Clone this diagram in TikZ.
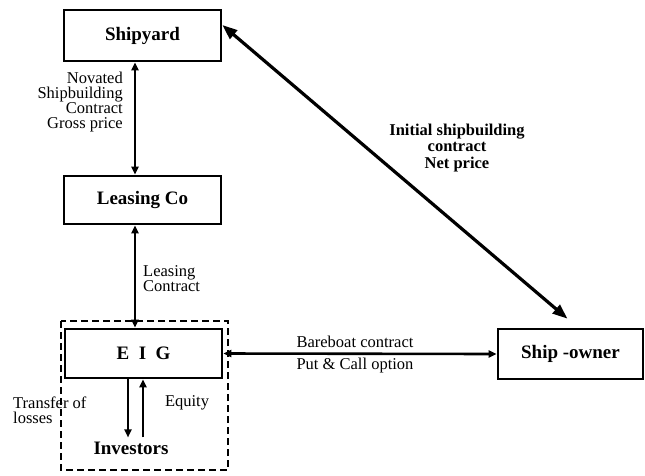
\documentclass[tikz,border=0pt]{standalone}
\usepackage{fontspec}
\setmainfont{Liberation Serif}
\usetikzlibrary{arrows.meta,calc}
\begin{document}
\begin{tikzpicture}[x=1pt,y=-1pt,
  boxnode/.style={draw,line width=2.6pt,inner sep=0pt,font=\bfseries\fontsize{19}{21}\selectfont},
  lbl/.style={font=\fontsize{16.5}{15}\selectfont,inner sep=0pt},
  blbl/.style={font=\bfseries\fontsize{16.5}{16.5}\selectfont,inner sep=0pt,align=center},
  link/.style={line width=2.6pt,{Triangle[length=8pt,width=7pt]}-{Triangle[length=8pt,width=7pt]}}]
\useasboundingbox (0,0) rectangle (645,475);
% boxes
\node[boxnode,minimum width=157pt,minimum height=51pt] (shipyard) at (142.5,35.5) {Shipyard};
\node[boxnode,minimum width=157pt,minimum height=48pt] (leasing) at (142.5,200) {Leasing Co};
\node[boxnode,minimum width=157pt,minimum height=49pt] (eig) at (143.5,353.5) {E\ \ I\ \ G};
\node[boxnode,minimum width=145pt,minimum height=50pt] (owner) at (570.5,354) {Ship -owner};
\node[font=\bfseries\fontsize{19}{21}\selectfont,inner sep=0pt] (inv) at (131,448) {Investors};
% dashed group
\draw[line width=1.6pt,dash pattern=on 7pt off 4pt] (61,321) rectangle (228,470);
% connectors
\draw[link] ([xshift=-7.5pt]shipyard.south) -- ([xshift=-7.5pt]leasing.north);
\draw[link] ([xshift=-7.5pt]leasing.south) -- ([xshift=-8.5pt]eig.north);
\draw[link] (eig.east) -- (owner.west);
\draw[line width=3.2pt,{Triangle[length=15pt,width=11pt]}-{Triangle[length=15pt,width=11pt]}]
  ([yshift=10.5pt]shipyard.east) -- ($(owner.north)+(-3,-9)$);
\draw[line width=2.6pt,-{Triangle[length=8pt,width=7pt]}] ([xshift=-15.5pt]eig.south) -- ($(inv.north)+(-3,-4)$);
\draw[line width=2.6pt,-{Triangle[length=8pt,width=7pt]}] ($(inv.north)+(12,-4)$) -- ([xshift=-0.5pt]eig.south);
% labels
\node[lbl,align=right,anchor=east] (l1) at (123,102) {Novated\\Shipbuilding\\Contract\\Gross price};
\node[lbl,align=left,anchor=west] (l2) at (143,278.5) {Leasing\\Contract};
\node[lbl] (l3) at (355,342) {Bareboat contract};
\node[lbl] (l4) at (355,366) {Put \& Call option};
\node[lbl,align=left,anchor=west] (l5) at (13,410.5) {Transfer of\\losses};
\node[lbl] (l6) at (187,403) {Equity};
\node[blbl] (l7) at (457,148) {Initial shipbuilding\\contract\\Net price};
\end{tikzpicture}
\end{document}
